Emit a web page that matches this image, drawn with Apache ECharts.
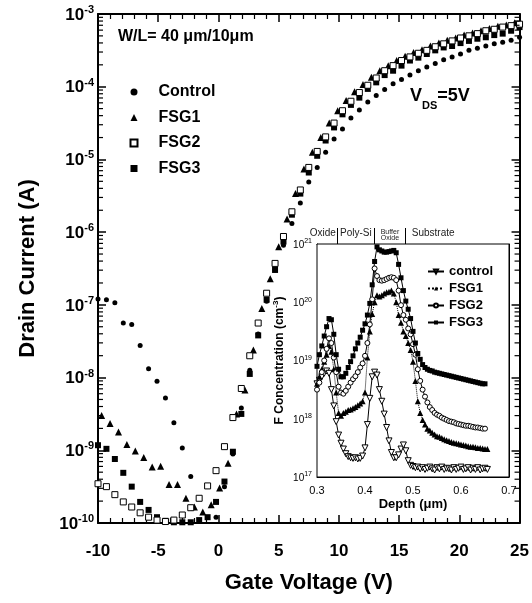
<!DOCTYPE html>
<html><head><meta charset="utf-8">
<script src="https://cdn.jsdelivr.net/npm/echarts@6/dist/echarts.min.js"></script>
<style>html,body{margin:0;padding:0;background:#fff}#c{width:532px;height:603px}</style>
</head><body><div id="c"></div>
<script>
const FONT = "'Liberation Sans', Arial, Helvetica, sans-serif";

// ---------- Main plot: drain current vs gate voltage (log10 of current in A) ----------
const gateVoltage = [-10,-9.3,-8.6,-7.9,-7.2,-6.5,-5.8,-5.1,-4.4,-3.7,-3.0,-2.3,-1.6,-0.9,-0.2,0.5,1.2,1.9,2.6,3.3,4.0,4.7,5.4,6.1,6.8,7.5,8.2,8.9,9.6,10.3,11.0,11.7,12.4,13.1,13.8,14.5,15.2,15.9,16.6,17.3,18.0,18.7,19.4,20.1,20.8,21.5,22.2,22.9,23.6,24.3,25.0];
const gateVoltageFSG1 = [-9.7,-9.0,-8.3,-7.6,-6.9,-6.2,-5.5,-4.8,-4.1,-3.4,-2.7,-2.0,-1.3,-0.6,0.1,0.8,1.5,2.2,2.9,3.6,4.3,5.0,5.7,6.4,7.1,7.8,8.5,9.2,9.9,10.6,11.3,12.0,12.7,13.4,14.1,14.8,15.5,16.2,16.9,17.6,18.3,19.0,19.7,20.4,21.1,21.8,22.5,23.2,23.9,24.6];
const logIdControl = [-6.92,-6.93,-6.97,-7.25,-7.27,-7.56,-7.88,-8.05,-8.28,-8.62,-8.97,-9.36,null,null,-9.92,-9.50,-9.05,-8.42,-7.90,-7.40,-6.95,-6.52,-6.18,-5.88,-5.60,-5.31,-5.11,-4.90,-4.72,-4.58,-4.43,-4.32,-4.21,-4.12,-4.04,-3.96,-3.90,-3.84,-3.78,-3.73,-3.68,-3.63,-3.59,-3.55,-3.50,-3.47,-3.44,-3.41,-3.39,-3.36,-3.32];
const logIdFSG1 = [-8.52,-8.63,-8.75,-8.92,-9.01,-9.10,-9.23,-9.22,-9.47,-9.47,-9.66,-9.78,-9.85,-9.75,-9.52,-9.18,-8.50,-8.17,-7.62,-7.05,-6.64,-6.20,-5.82,-5.47,-5.13,-4.90,-4.70,-4.50,-4.33,-4.19,-4.07,-3.97,-3.87,-3.78,-3.71,-3.64,-3.58,-3.53,-3.49,-3.44,-3.40,-3.36,-3.33,-3.29,-3.26,-3.23,-3.20,-3.17,-3.15,-3.12];
const logIdFSG2 = [-9.46,-9.50,-9.61,-9.71,-9.78,-9.86,-9.92,-9.96,-9.98,-9.96,-9.89,-9.79,-9.66,-9.49,-9.28,-8.95,-8.55,-8.15,-7.70,-7.25,-6.84,-6.43,-6.06,-5.72,-5.42,-5.11,-4.89,-4.69,-4.50,-4.33,-4.20,-4.08,-3.98,-3.88,-3.78,-3.71,-3.64,-3.59,-3.54,-3.50,-3.45,-3.41,-3.37,-3.33,-3.30,-3.27,-3.23,-3.21,-3.18,-3.16,-3.14];
const logIdFSG3 = [-8.93,-8.98,-9.12,-9.31,-9.50,-9.71,-9.82,-9.92,-9.97,-9.99,-9.99,-9.99,-9.96,-9.92,-9.71,-9.43,-9.02,-8.50,-7.95,-7.42,-6.93,-6.52,-6.13,-5.76,-5.47,-5.18,-4.95,-4.74,-4.56,-4.38,-4.25,-4.15,-4.03,-3.94,-3.84,-3.78,-3.71,-3.64,-3.60,-3.55,-3.50,-3.46,-3.44,-3.40,-3.37,-3.34,-3.32,-3.29,-3.27,-3.23,-3.18];
const mainSeriesNames = ['Control', 'FSG1', 'FSG2', 'FSG3'];
const logMinorMantissas = [2,3,4,5,6,7,8,9];
const logDecades = [-10,-9,-8,-7,-6,-5,-4];

// ---------- Inset: F concentration vs depth (log10 of cm^-3) ----------
const depth = [0.300,0.305,0.310,0.315,0.320,0.325,0.330,0.335,0.340,0.345,0.350,0.355,0.360,0.365,0.370,0.375,0.380,0.385,0.390,0.395,0.400,0.405,0.410,0.415,0.420,0.425,0.430,0.435,0.440,0.445,0.450,0.455,0.460,0.465,0.470,0.475,0.480,0.485,0.490,0.495,0.500,0.505,0.510,0.515,0.520,0.525,0.530,0.535,0.540,0.545,0.550,0.555,0.560,0.565,0.570,0.575,0.580,0.585,0.590,0.595,0.600,0.605,0.610,0.615,0.620,0.625,0.630,0.635,0.640,0.645,0.650,0.655];
const logFControl = [18.60,18.66,18.72,18.78,18.82,18.78,18.50,18.22,17.95,17.72,17.58,17.48,17.40,17.35,17.33,17.32,17.33,17.31,17.32,17.36,17.50,17.90,18.35,18.72,18.80,18.75,18.50,18.30,18.08,17.85,17.62,17.42,17.33,17.33,17.38,17.48,17.55,17.45,17.28,17.20,17.18,17.16,17.17,17.14,17.16,17.13,17.15,17.17,17.14,17.12,17.16,17.14,17.17,17.13,17.15,17.14,17.12,17.16,17.13,17.15,17.17,17.13,17.14,17.16,17.12,17.15,17.13,17.16,17.12,17.14,17.15,17.13];
const logFFSG1 = [18.60,18.72,18.85,18.98,19.10,19.25,19.15,18.85,18.45,18.10,18.05,18.10,18.12,18.15,18.16,18.18,18.20,18.23,18.26,18.30,18.45,19.05,19.50,19.80,20.00,20.12,20.10,20.12,20.15,20.17,20.18,20.20,20.15,20.00,19.78,19.65,19.50,19.42,19.30,19.18,18.98,18.65,18.30,18.10,17.98,17.90,17.83,17.80,17.76,17.73,17.70,17.69,17.67,17.65,17.63,17.62,17.60,17.59,17.58,17.57,17.56,17.55,17.54,17.53,17.52,17.52,17.51,17.50,17.50,17.49,17.48,17.48];
const logFFSG2 = [18.50,18.62,18.80,19.00,19.20,19.38,19.30,19.05,18.80,18.55,18.45,18.43,18.48,18.55,18.62,18.68,18.73,18.80,18.88,18.95,19.08,19.30,19.62,20.05,20.58,20.45,20.38,20.37,20.38,20.40,20.42,20.43,20.42,20.38,20.20,19.95,19.78,19.70,19.55,19.45,19.28,19.10,18.85,18.65,18.50,18.38,18.28,18.20,18.15,18.10,18.07,18.05,18.02,18.00,17.98,17.96,17.95,17.94,17.92,17.91,17.90,17.89,17.88,17.88,17.87,17.86,17.85,17.85,17.84,17.83,17.83,null];
const logFFSG3 = [18.90,19.10,19.25,19.42,19.58,19.72,19.70,19.45,19.10,18.85,18.72,18.72,18.78,18.88,18.98,19.08,19.20,19.30,19.40,19.52,19.63,19.78,19.98,20.30,20.70,20.95,20.90,20.88,20.86,20.86,20.87,20.88,20.89,20.85,20.65,20.42,20.20,20.02,19.88,19.72,19.50,19.30,19.12,19.02,18.93,18.88,18.85,18.83,18.82,18.80,18.79,18.78,18.77,18.76,18.75,18.74,18.73,18.72,18.71,18.70,18.69,18.68,18.67,18.66,18.65,18.64,18.63,18.62,18.61,18.60,18.60,null];
const insetSeriesNames = ['control', 'FSG1', 'FSG2', 'FSG3'];
const layerBoundaryDepth = [0.342, 0.419, 0.484];
const layerLabels = ['Oxide', 'Poly-Si', 'Buffer|Oxide', 'Substrate'];
const layerLabelDepth = [0.312, 0.381, 0.452, 0.542];

function toPairs(xs, logs) {
  const out = [];
  for (let i = 0; i < xs.length; i++) {
    if (logs[i] !== null && logs[i] !== undefined) out.push([xs[i], Math.pow(10, logs[i])]);
  }
  return out;
}
const minorTickValues = [];
logDecades.forEach(e => logMinorMantissas.forEach(m => minorTickValues.push([-10, m * Math.pow(10, e)])));

function supLabel(v) { return '{b|10}{s|' + Math.round(Math.log10(v)) + '}'; }
const blk = '#000';
const mainAxisLine = { show: true, onZero: false, lineStyle: { color: blk, width: 2 } };
const insetAxisLine = { show: true, onZero: false, lineStyle: { color: blk, width: 1 } };

const chart = echarts.init(document.getElementById('c'), null, { renderer: 'canvas' });

const option = {
  animation: false,
  backgroundColor: '#fff',
  title: [
    { text: 'W/L= 40 \u03bcm/10\u03bcm', left: 113, top: 24, padding: 5,
      textStyle: { fontFamily: FONT, fontSize: 16, fontWeight: 'bold', color: blk } },
    { text: '{v|V}{s|DS}{v|=5V}', left: 405, top: 82, padding: 5,
      textStyle: { rich: {
        v: { fontFamily: FONT, fontSize: 18, fontWeight: 'bold', color: blk, verticalAlign: 'bottom', padding: [0, 0, 6, 0] },
        s: { fontFamily: FONT, fontSize: 11, fontWeight: 'bold', color: blk, verticalAlign: 'bottom' } } } }
  ],
  legend: [
    { data: mainSeriesNames, orient: 'vertical', left: 124.5, top: 79, itemWidth: 7, itemHeight: 7, itemGap: 9.5,
      selectedMode: false,
      textStyle: { fontFamily: FONT, fontSize: 16, fontWeight: 'bold', color: blk, lineHeight: 16, padding: [0, 0, 0, 16] } },
    { data: insetSeriesNames.map(n => 'inset ' + n),
      formatter: n => n.slice(6),
      orient: 'vertical', left: 422, top: 260, itemWidth: 16, itemHeight: 5, itemGap: 4, selectedMode: false,
      textStyle: { fontFamily: FONT, fontSize: 13, fontWeight: 'bold', color: blk, lineHeight: 13 } }
  ],
  grid: [
    { left: 98, top: 14, width: 427, height: 509, show: false },
    { left: 317, top: 244, width: 192, height: 233, show: true, backgroundColor: '#fff', borderColor: blk, borderWidth: 1, z: 3 }
  ],
  xAxis: [
    { gridIndex: 0, type: 'value', min: -10, max: 25, interval: 5, position: 'bottom',
      axisLine: mainAxisLine,
      axisTick: { show: true, inside: true, length: 8, lineStyle: { color: blk, width: 1.5 } },
      minorTick: { show: true, splitNumber: 5, length: 5, lineStyle: { color: blk, width: 1.2 } },
      splitLine: { show: false },
      axisLabel: { margin: 20, color: blk, fontFamily: FONT, fontSize: 17, fontWeight: 'bold' },
      name: 'Gate Voltage (V)', nameLocation: 'middle', nameGap: 49,
      nameTextStyle: { fontFamily: FONT, fontSize: 22, fontWeight: 'bold', color: blk } },
    { gridIndex: 0, type: 'value', min: -10, max: 25, interval: 5, position: 'top',
      axisLine: mainAxisLine,
      axisTick: { show: true, inside: true, length: 8, lineStyle: { color: blk, width: 1.5 } },
      minorTick: { show: true, splitNumber: 5, length: 5, lineStyle: { color: blk, width: 1.2 } },
      splitLine: { show: false }, axisLabel: { show: false } },
    { gridIndex: 1, type: 'value', min: 0.3, max: 0.7, interval: 0.1, position: 'bottom',
      axisLine: insetAxisLine,
      axisTick: { show: true, inside: true, length: 4, lineStyle: { color: blk, width: 1 } },
      splitLine: { show: false },
      axisLabel: { margin: 8, color: blk, fontFamily: FONT, fontSize: 11, formatter: v => v.toFixed(1) },
      name: 'Depth (\u03bcm)', nameLocation: 'middle', nameGap: 21,
      nameTextStyle: { fontFamily: FONT, fontSize: 13, fontWeight: 'bold', color: blk } },
    { gridIndex: 1, type: 'value', min: 0.3, max: 0.7, interval: 0.1, position: 'top',
      axisLine: insetAxisLine,
      axisTick: { show: true, inside: true, length: 4, lineStyle: { color: blk, width: 1 } },
      splitLine: { show: false }, axisLabel: { show: false } }
  ],
  yAxis: [
    { gridIndex: 0, type: 'log', logBase: 10, min: 1e-10, max: 1e-3, splitNumber: 7, position: 'left',
      axisLine: mainAxisLine,
      axisTick: { show: true, inside: true, length: 8, lineStyle: { color: blk, width: 1.5 } },
      splitLine: { show: false },
      axisLabel: { margin: 4, formatter: supLabel, rich: {
        b: { fontFamily: FONT, fontSize: 17, fontWeight: 'bold', color: blk, verticalAlign: 'bottom' },
        s: { fontFamily: FONT, fontSize: 11, fontWeight: 'bold', color: blk, verticalAlign: 'bottom', padding: [0, 0, 8, 0] } } },
      name: 'Drain Current (A)', nameLocation: 'middle', nameGap: 59, nameRotate: 90,
      nameTextStyle: { fontFamily: FONT, fontSize: 22, fontWeight: 'bold', color: blk } },
    { gridIndex: 0, type: 'log', logBase: 10, min: 1e-10, max: 1e-3, splitNumber: 7, position: 'right',
      axisLine: mainAxisLine,
      axisTick: { show: true, inside: true, length: 8, lineStyle: { color: blk, width: 1.5 } },
      splitLine: { show: false }, axisLabel: { show: false } },
    { gridIndex: 1, type: 'log', logBase: 10, min: 1e17, max: 1e21, splitNumber: 4, position: 'left',
      axisLine: insetAxisLine,
      axisTick: { show: true, inside: true, length: 4, lineStyle: { color: blk, width: 1 } },
      splitLine: { show: false },
      axisLabel: { margin: 5, formatter: supLabel, rich: {
        b: { fontFamily: FONT, fontSize: 10, color: blk, verticalAlign: 'bottom' },
        s: { fontFamily: FONT, fontSize: 7, color: blk, verticalAlign: 'bottom', padding: [0, 0, 5, 0] } } },
      name: '{n|F Concentration (cm}{s|-3}{n|)}', nameLocation: 'middle', nameGap: 31, nameRotate: 90,
      nameTextStyle: { rich: {
        n: { fontFamily: FONT, fontSize: 12, fontWeight: 'bold', color: blk, verticalAlign: 'bottom' },
        s: { fontFamily: FONT, fontSize: 8, fontWeight: 'bold', color: blk, verticalAlign: 'bottom', padding: [0, 0, 6, 0] } } } },
    { gridIndex: 1, type: 'log', logBase: 10, min: 1e17, max: 1e21, splitNumber: 4, position: 'right',
      axisLine: insetAxisLine,
      axisTick: { show: true, inside: true, length: 4, lineStyle: { color: blk, width: 1 } },
      splitLine: { show: false }, axisLabel: { show: false } }
  ],
  series: [
    { name: 'logMinorTicks', type: 'custom', xAxisIndex: 0, yAxisIndex: 0, silent: true, clip: false, z: 5,
      data: minorTickValues,
      renderItem: function (params, api) {
        const cs = params.coordSys;
        const p = api.coord([api.value(0), api.value(1)]);
        const st = { stroke: blk, lineWidth: 1.2 };
        return { type: 'group', children: [
          { type: 'line', shape: { x1: cs.x, y1: p[1], x2: cs.x + 5, y2: p[1] }, style: st },
          { type: 'line', shape: { x1: cs.x + cs.width - 5, y1: p[1], x2: cs.x + cs.width, y2: p[1] }, style: st }
        ] };
      } },
    { name: 'Control', type: 'scatter', xAxisIndex: 0, yAxisIndex: 0, symbol: 'circle', symbolSize: 5,
      itemStyle: { color: blk, opacity: 1 }, data: toPairs(gateVoltage, logIdControl) },
    { name: 'FSG1', type: 'scatter', xAxisIndex: 0, yAxisIndex: 0, symbol: 'triangle', symbolSize: 7,
      itemStyle: { color: blk, opacity: 1 }, data: toPairs(gateVoltageFSG1, logIdFSG1) },
    { name: 'FSG3', type: 'scatter', xAxisIndex: 0, yAxisIndex: 0, symbol: 'rect', symbolSize: 6,
      itemStyle: { color: blk, opacity: 1 }, data: toPairs(gateVoltage, logIdFSG3) },
    { name: 'FSG2', type: 'scatter', xAxisIndex: 0, yAxisIndex: 0, symbol: 'rect', symbolSize: 6,
      itemStyle: { color: '#fff', borderColor: blk, borderWidth: 1, opacity: 1 }, data: toPairs(gateVoltage, logIdFSG2) },

    { name: 'inset control', type: 'line', xAxisIndex: 2, yAxisIndex: 2, z: 6, showAllSymbol: true,
      symbol: 'triangle', symbolRotate: 180, symbolSize: 6,
      lineStyle: { color: blk, width: 1 }, itemStyle: { color: '#fff', borderColor: blk, borderWidth: 1 },
      data: toPairs(depth, logFControl) },
    { name: 'inset FSG1', type: 'line', xAxisIndex: 2, yAxisIndex: 2, z: 6, showAllSymbol: true,
      symbol: 'triangle', symbolSize: 6,
      lineStyle: { color: blk, width: 1, type: 'dotted' }, itemStyle: { color: blk },
      data: toPairs(depth, logFFSG1) },
    { name: 'inset FSG2', type: 'line', xAxisIndex: 2, yAxisIndex: 2, z: 6, showAllSymbol: true,
      symbol: 'circle', symbolSize: 5,
      lineStyle: { color: blk, width: 1 }, itemStyle: { color: '#fff', borderColor: blk, borderWidth: 1 },
      data: toPairs(depth, logFFSG2) },
    { name: 'inset FSG3', type: 'line', xAxisIndex: 2, yAxisIndex: 2, z: 6, showAllSymbol: true,
      symbol: 'rect', symbolSize: 5,
      lineStyle: { color: blk, width: 1 }, itemStyle: { color: blk },
      data: toPairs(depth, logFFSG3) }
  ]
};
chart.setOption(option);

// Layer annotations above the inset, placed through the inset's own axes
const topY = chart.convertToPixel({ yAxisIndex: 2 }, 1e21);
const gfx = [];
layerBoundaryDepth.forEach(d => {
  const x = Math.round(chart.convertToPixel({ xAxisIndex: 2 }, d)) + 0.5;
  gfx.push({ type: 'line', shape: { x1: x, y1: topY - 16, x2: x, y2: topY }, style: { stroke: blk, lineWidth: 1 }, z: 10 });
});
layerLabels.forEach((t, i) => {
  const x = chart.convertToPixel({ xAxisIndex: 2 }, layerLabelDepth[i]);
  if (t.indexOf('|') >= 0) {
    const parts = t.split('|');
    gfx.push({ type: 'text', x: x, y: topY - 12, z: 10,
      style: { text: parts[0], font: '7px ' + FONT, fill: '#222', textAlign: 'center', textVerticalAlign: 'middle' } });
    gfx.push({ type: 'text', x: x, y: topY - 5.5, z: 10,
      style: { text: parts[1], font: '7px ' + FONT, fill: '#222', textAlign: 'center', textVerticalAlign: 'middle' } });
  } else {
    gfx.push({ type: 'text', x: x, y: topY - 11, z: 10,
      style: { text: t, font: '10px ' + FONT, fill: '#222', textAlign: 'center', textVerticalAlign: 'middle' } });
  }
});
chart.setOption({ graphic: gfx });
</script>
</body></html>
